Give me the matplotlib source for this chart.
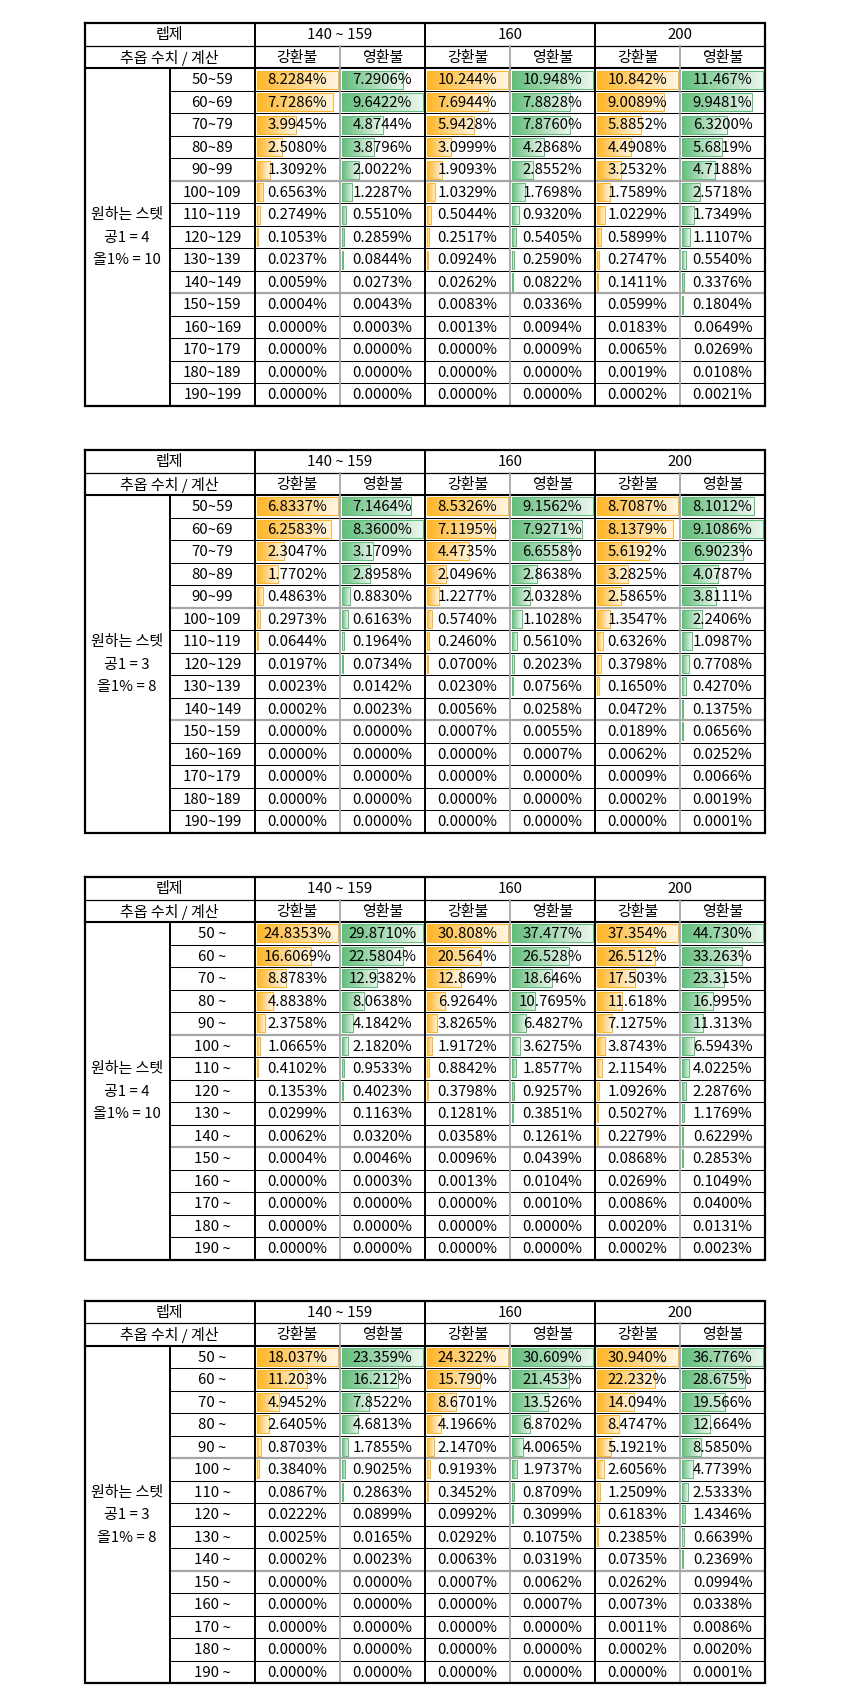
"""
    Recreates four spreadsheet tables of stat probabilities with Excel-style data bars
"""

import numpy as np
import matplotlib.pyplot as plt
from matplotlib.colors import LinearSegmentedColormap, to_rgb

plt.rcParams['font.family'] = ['Noto Sans CJK KR', 'DejaVu Sans']

FONTSIZE = 10.8
W, H = 851, 1703          # figure size in pixels
X0 = 84.7                 # left edge of the tables
COL_W = 85.05
ROW_H = 22.5
TABLE_TOPS = [23.3, 450.0, 877.0, 1300.5]
ORANGE = '#FFB628'
GREEN = '#63BE7B'
GRAY = '#A6A6A6'

group_labels = ['140 ~ 159', '160', '200']
sub_labels = ['강환불', '영환불']
ranges_a = ['50~59', '60~69', '70~79', '80~89', '90~99', '100~109', '110~119', '120~129',
            '130~139', '140~149', '150~159', '160~169', '170~179', '180~189', '190~199']
ranges_b = ['50 ~', '60 ~', '70 ~', '80 ~', '90 ~', '100 ~', '110 ~', '120 ~',
            '130 ~', '140 ~', '150 ~', '160 ~', '170 ~', '180 ~', '190 ~']
side_4 = ['원하는 스텟', '공1 = 4', '올1% = 10']
side_3 = ['원하는 스텟', '공1 = 3', '올1% = 8']

# table 1 (ranges, 공1 = 4)
t1_140_gang = ['8.2284', '7.7286', '3.9945', '2.5080', '1.3092', '0.6563', '0.2749', '0.1053', '0.0237', '0.0059', '0.0004', '0.0000', '0.0000', '0.0000', '0.0000']
t1_140_yeong = ['7.2906', '9.6422', '4.8744', '3.8796', '2.0022', '1.2287', '0.5510', '0.2859', '0.0844', '0.0273', '0.0043', '0.0003', '0.0000', '0.0000', '0.0000']
t1_160_gang = ['10.244', '7.6944', '5.9428', '3.0999', '1.9093', '1.0329', '0.5044', '0.2517', '0.0924', '0.0262', '0.0083', '0.0013', '0.0000', '0.0000', '0.0000']
t1_160_yeong = ['10.948', '7.8828', '7.8760', '4.2868', '2.8552', '1.7698', '0.9320', '0.5405', '0.2590', '0.0822', '0.0336', '0.0094', '0.0009', '0.0000', '0.0000']
t1_200_gang = ['10.842', '9.0089', '5.8852', '4.4908', '3.2532', '1.7589', '1.0229', '0.5899', '0.2747', '0.1411', '0.0599', '0.0183', '0.0065', '0.0019', '0.0002']
t1_200_yeong = ['11.467', '9.9481', '6.3200', '5.6819', '4.7188', '2.5718', '1.7349', '1.1107', '0.5540', '0.3376', '0.1804', '0.0649', '0.0269', '0.0108', '0.0021']

# table 2 (ranges, 공1 = 3)
t2_140_gang = ['6.8337', '6.2583', '2.3047', '1.7702', '0.4863', '0.2973', '0.0644', '0.0197', '0.0023', '0.0002', '0.0000', '0.0000', '0.0000', '0.0000', '0.0000']
t2_140_yeong = ['7.1464', '8.3600', '3.1709', '2.8958', '0.8830', '0.6163', '0.1964', '0.0734', '0.0142', '0.0023', '0.0000', '0.0000', '0.0000', '0.0000', '0.0000']
t2_160_gang = ['8.5326', '7.1195', '4.4735', '2.0496', '1.2277', '0.5740', '0.2460', '0.0700', '0.0230', '0.0056', '0.0007', '0.0000', '0.0000', '0.0000', '0.0000']
t2_160_yeong = ['9.1562', '7.9271', '6.6558', '2.8638', '2.0328', '1.1028', '0.5610', '0.2023', '0.0756', '0.0258', '0.0055', '0.0007', '0.0000', '0.0000', '0.0000']
t2_200_gang = ['8.7087', '8.1379', '5.6192', '3.2825', '2.5865', '1.3547', '0.6326', '0.3798', '0.1650', '0.0472', '0.0189', '0.0062', '0.0009', '0.0002', '0.0000']
t2_200_yeong = ['8.1012', '9.1086', '6.9023', '4.0787', '3.8111', '2.2406', '1.0987', '0.7708', '0.4270', '0.1375', '0.0656', '0.0252', '0.0066', '0.0019', '0.0001']

# table 3 (cumulative, 공1 = 4)
t3_140_gang = ['24.8353', '16.6069', '8.8783', '4.8838', '2.3758', '1.0665', '0.4102', '0.1353', '0.0299', '0.0062', '0.0004', '0.0000', '0.0000', '0.0000', '0.0000']
t3_140_yeong = ['29.8710', '22.5804', '12.9382', '8.0638', '4.1842', '2.1820', '0.9533', '0.4023', '0.1163', '0.0320', '0.0046', '0.0003', '0.0000', '0.0000', '0.0000']
t3_160_gang = ['30.808', '20.564', '12.869', '6.9264', '3.8265', '1.9172', '0.8842', '0.3798', '0.1281', '0.0358', '0.0096', '0.0013', '0.0000', '0.0000', '0.0000']
t3_160_yeong = ['37.477', '26.528', '18.646', '10.7695', '6.4827', '3.6275', '1.8577', '0.9257', '0.3851', '0.1261', '0.0439', '0.0104', '0.0010', '0.0000', '0.0000']
t3_200_gang = ['37.354', '26.512', '17.503', '11.618', '7.1275', '3.8743', '2.1154', '1.0926', '0.5027', '0.2279', '0.0868', '0.0269', '0.0086', '0.0020', '0.0002']
t3_200_yeong = ['44.730', '33.263', '23.315', '16.995', '11.313', '6.5943', '4.0225', '2.2876', '1.1769', '0.6229', '0.2853', '0.1049', '0.0400', '0.0131', '0.0023']

# table 4 (cumulative, 공1 = 3)
t4_140_gang = ['18.037', '11.203', '4.9452', '2.6405', '0.8703', '0.3840', '0.0867', '0.0222', '0.0025', '0.0002', '0.0000', '0.0000', '0.0000', '0.0000', '0.0000']
t4_140_yeong = ['23.359', '16.212', '7.8522', '4.6813', '1.7855', '0.9025', '0.2863', '0.0899', '0.0165', '0.0023', '0.0000', '0.0000', '0.0000', '0.0000', '0.0000']
t4_160_gang = ['24.322', '15.790', '8.6701', '4.1966', '2.1470', '0.9193', '0.3452', '0.0992', '0.0292', '0.0063', '0.0007', '0.0000', '0.0000', '0.0000', '0.0000']
t4_160_yeong = ['30.609', '21.453', '13.526', '6.8702', '4.0065', '1.9737', '0.8709', '0.3099', '0.1075', '0.0319', '0.0062', '0.0007', '0.0000', '0.0000', '0.0000']
t4_200_gang = ['30.940', '22.232', '14.094', '8.4747', '5.1921', '2.6056', '1.2509', '0.6183', '0.2385', '0.0735', '0.0262', '0.0073', '0.0011', '0.0002', '0.0000']
t4_200_yeong = ['36.776', '28.675', '19.566', '12.664', '8.5850', '4.7739', '2.5333', '1.4346', '0.6639', '0.2369', '0.0994', '0.0338', '0.0086', '0.0020', '0.0001']

tables = [
    (ranges_a, side_4, [t1_140_gang, t1_140_yeong, t1_160_gang, t1_160_yeong, t1_200_gang, t1_200_yeong]),
    (ranges_a, side_3, [t2_140_gang, t2_140_yeong, t2_160_gang, t2_160_yeong, t2_200_gang, t2_200_yeong]),
    (ranges_b, side_4, [t3_140_gang, t3_140_yeong, t3_160_gang, t3_160_yeong, t3_200_gang, t3_200_yeong]),
    (ranges_b, side_3, [t4_140_gang, t4_140_yeong, t4_160_gang, t4_160_yeong, t4_200_gang, t4_200_yeong]),
]


def light(color, amount=0.88):
    c = np.array(to_rgb(color))
    return tuple(c + (1 - c) * amount)


cmaps = {ORANGE: LinearSegmentedColormap.from_list('o', [ORANGE, light(ORANGE)]),
         GREEN: LinearSegmentedColormap.from_list('g', [GREEN, light(GREEN)])}
grad = np.linspace(0, 1, 64)[None, :]


def draw_table(ax, top, ranges, side, columns):
    edges = X0 + COL_W * np.arange(9)
    n = len(ranges)
    rows_y = top + ROW_H * np.arange(n + 3)   # row boundaries
    bottom = rows_y[-1]
    txt = dict(ha='center', va='center', fontsize=FONTSIZE, color='black', zorder=5)
    dy = 0.8

    # header
    ax.text((edges[0] + edges[2]) / 2, rows_y[0] + ROW_H / 2 + dy, '렙제', **txt)
    ax.text((edges[0] + edges[2]) / 2, rows_y[1] + ROW_H / 2 + dy, '추옵 수치 / 계산', **txt)
    for g, lab in enumerate(group_labels):
        ax.text((edges[2 + 2 * g] + edges[4 + 2 * g]) / 2, rows_y[0] + ROW_H / 2 + dy, lab, **txt)
        for s, sub in enumerate(sub_labels):
            c = 2 + 2 * g + s
            ax.text((edges[c] + edges[c + 1]) / 2, rows_y[1] + ROW_H / 2 + dy, sub, **txt)

    centers = rows_y[2:-1] + ROW_H / 2
    for r, lab in enumerate(ranges):
        ax.text((edges[1] + edges[2]) / 2, centers[r] + dy, lab, **txt)
    for k, lab in enumerate(side):
        ax.text((edges[0] + edges[1]) / 2, centers[6 + k] + dy, lab, **txt)

    # data bars and values
    for j, col in enumerate(columns):
        vals = np.array(col, dtype=float)
        color = ORANGE if j % 2 == 0 else GREEN
        left = edges[2 + j] + 2.0
        span = COL_W - 4.0
        widths = vals / vals.max() * span
        widths = np.where(widths >= 0.47, np.maximum(widths, 0.6), 0.0)
        shown = widths > 0
        bars = ax.barh(centers[shown], widths[shown], left=left, height=ROW_H - 4.5,
                       facecolor='none', edgecolor=color, linewidth=0.75, zorder=3)
        for b in bars:
            x, y, w, h = b.get_x(), b.get_y(), b.get_width(), b.get_height()
            ax.imshow(grad, cmap=cmaps[color], extent=(x, x + w, y + h, y),
                      aspect='auto', interpolation='bilinear', zorder=2)
        for r, s in enumerate(col):
            ax.text((edges[2 + j] + edges[3 + j]) / 2, centers[r] + dy, s + '%', **txt)

    # grid lines
    for r in range(3, n + 2):
        if r in (7, 12):
            ax.plot([edges[1], edges[8]], [rows_y[r]] * 2, color=GRAY, lw=1.6, zorder=4)
        else:
            ax.plot([edges[1], edges[8]], [rows_y[r]] * 2, color='black', lw=0.75, zorder=4)
    ax.plot([edges[0], edges[8]], [rows_y[1]] * 2, color='black', lw=0.9, zorder=4)
    ax.plot([edges[0], edges[8]], [rows_y[2]] * 2, color='black', lw=1.5, zorder=4)
    for c in (3, 5, 7):
        ax.plot([edges[c]] * 2, [rows_y[1], bottom], color=GRAY, lw=1.3, zorder=4)
    for c in (2, 4, 6):
        ax.plot([edges[c]] * 2, [top, bottom], color='black', lw=1.4, zorder=4)
    ax.plot([edges[1]] * 2, [rows_y[2], bottom], color='black', lw=1.4, zorder=4)
    ax.plot([edges[0], edges[8], edges[8], edges[0], edges[0]],
            [top, top, bottom, bottom, top], color='black', lw=1.6, zorder=6,
            solid_joinstyle='miter')


fig = plt.figure(figsize=(W / 100, H / 100), dpi=100)
ax = fig.add_axes([0, 0, 1, 1])
for top, (ranges, side, columns) in zip(TABLE_TOPS, tables):
    draw_table(ax, top, ranges, side, columns)
ax.set_xlim(0, W)
ax.set_ylim(H, 0)
ax.axis('off')
fig.savefig('out.png', dpi=100, facecolor='white')
